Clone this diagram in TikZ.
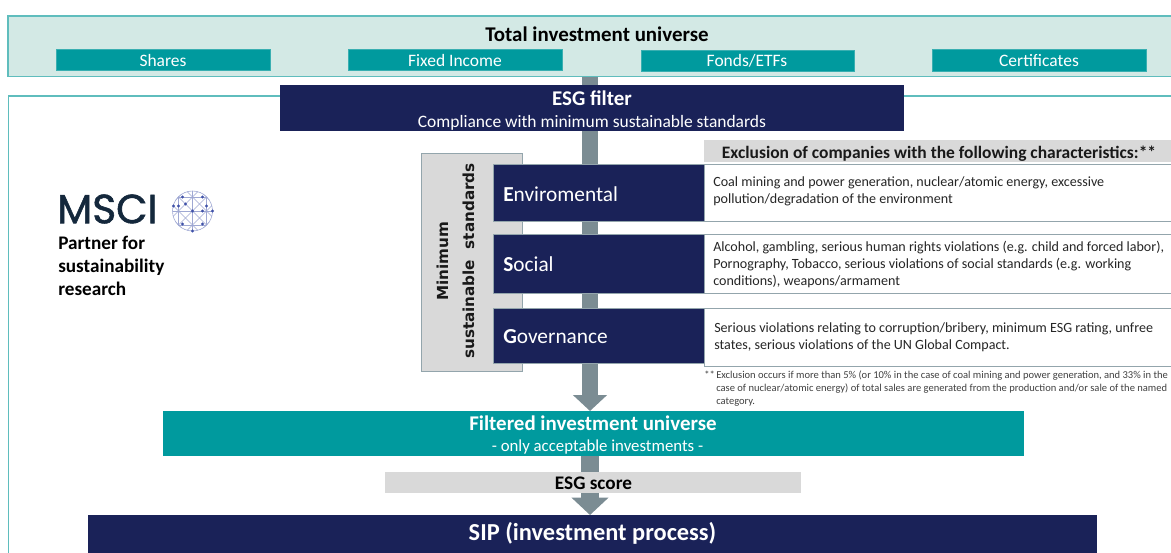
\documentclass[tikz,border=0pt]{standalone}
\usepackage{fontspec}
\setmainfont{Carlito}
\newfontfamily\logofont[FakeBold=1.4]{Poppins}
\newfontfamily\vertfont{DejaVu Sans}
\usetikzlibrary{arrows.meta,backgrounds}
\definecolor{navy}{HTML}{1A2258}
\definecolor{teal2}{HTML}{009A9E}
\definecolor{pale}{HTML}{D3E9E5}
\definecolor{edgeteal}{HTML}{5FBDBD}
\definecolor{lgray}{HTML}{D9D9D9}
\definecolor{steel}{HTML}{7B8C93}
\definecolor{edgegray}{HTML}{93A5AC}
\definecolor{globe}{HTML}{3F51A8}
\definecolor{logotext}{HTML}{14283C}
\tikzset{
  x=0.75pt,y=-0.75pt,
  chip/.style={fill=teal2,draw=edgeteal!60!teal2,line width=.4pt},
  chiptext/.style={text=white,font=\fontsize{13.1}{15}\selectfont},
  navybox/.style={fill=navy},
  desc/.style={anchor=west,inner sep=0,align=left,text=black!85,font=\fontsize{10.55}{12.75}\selectfont},
  rowlabel/.style={anchor=west,inner sep=0,text=white,font=\fontsize{16}{18}\selectfont},
  flowa/.style={draw=steel,line width=12pt,-{Triangle[length=12pt,width=25pt]}},
  flowb/.style={draw=steel,line width=13.5pt,-{Triangle[length=13pt,width=27pt]}},
  rowbox/.style={fill=white,draw=edgegray,line width=.7pt},
  glink/.style={draw=globe!50,line width=.45pt},
  gdot/.style={fill=globe,circle,inner sep=0,minimum size=2.6pt},
  foot/.style={anchor=north west,inner sep=0,align=left,text=black!75,font=\fontsize{7.9}{9.5}\selectfont},
}
\newcommand{\rectnode}[6][]{\node[rectangle,inner sep=0,outer sep=0,minimum width=#4*0.75pt-#2*0.75pt,minimum height=#5*0.75pt-#3*0.75pt,anchor=north west,#1] (#6) at (#2,#3) {};}
\begin{document}
\begin{tikzpicture}
\useasboundingbox (0,0) rectangle (1171,553);
% frames
\node[rectangle,inner sep=0,outer sep=0,anchor=north west,minimum width=873pt,minimum height=45.5pt,fill=pale,draw=edgeteal,line width=.8pt] (universe) at (8,16) {};
\draw[edgeteal,line width=.9pt] (1180,96) -- (8.5,96) -- (8.5,560);
\coordinate (axis) at (590,0);
\rectnode[navybox]{280}{85}{904}{131}{filter}
\rectnode[fill=teal2]{163}{411}{1024}{456}{filtered}
\rectnode[fill=lgray]{385}{472}{801}{493}{score}
\rectnode[navybox]{88}{515}{1097}{560}{sip}
\begin{scope}[on background layer]
\draw[flowa] (universe.south -| axis) -- (filtered.north -| axis);
\draw[flowb] (filtered.south -| axis) -- (sip.north -| axis);
\end{scope}
% universe
\node[font=\fontsize{15.7}{18}\selectfont\bfseries,text=black] (titleU) at (597,34) {Total investment universe};
\rectnode[chip]{56}{49}{270}{70}{c1}
\rectnode[chip]{348}{49}{562}{70}{c2}
\rectnode[chip]{641}{50}{854}{71}{c3}
\rectnode[chip]{932}{49}{1146}{71}{c4}
\node[chiptext] (l1) at (163,60.5) {Shares};
\node[chiptext] (l2) at (455,60.5) {Fixed Income};
\node[chiptext] (l3) at (747,60.5) {Fonds/ETFs};
\node[chiptext] (l4) at (1039,60.5) {Certificates};
% filter text
\node[text=white,font=\fontsize{15.7}{18}\selectfont\bfseries] (t1) at (592,98.5) {ESG filter};
\node[text=white,font=\fontsize{13.1}{15}\selectfont] (t2) at (592,122.5) {Compliance with minimum sustainable standards};
% min standards
\rectnode[fill=lgray,draw=edgegray,line width=.7pt]{421}{153}{522}{371}{minstd}
\node[rotate=90,align=center,font=\fontsize{11.4}{19.5}\selectfont\vertfont\bfseries,text=black!90] (mintxt) at (455.5,261) {Minimum\\sustainable\ \ standards};
% rows
\rectnode[navybox,draw=edgegray,line width=.5pt]{493}{164}{704}{221}{E}
\rectnode[navybox,draw=edgegray,line width=.5pt]{493}{234}{704}{293}{S}
\rectnode[navybox,draw=edgegray,line width=.5pt]{493}{308}{704}{363}{G}
\rectnode[rowbox]{704}{164}{1180}{221}{Ed}
\rectnode[rowbox]{704}{234}{1180}{293}{Sd}
\rectnode[rowbox]{704}{308}{1180}{366}{Gd}
\node[rowlabel] (Et) at (503,194) {\textbf{E}nviromental};
\node[rowlabel] (St) at (503,264) {\textbf{S}ocial};
\node[rowlabel] (Gt) at (503,337) {\textbf{G}overnance};
\rectnode[fill=lgray]{704}{140}{1171}{162}{head}
\node[font=\fontsize{13.1}{15}\selectfont\bfseries,text=black!90] (headt) at (939,153.5) {Exclusion of companies with the following characteristics:**};
\node[desc] (d1) at (713,191.5) {Coal mining and power generation, nuclear/atomic energy, excessive\\pollution/degradation of the environment};
\node[desc] (d2) at (713,264.5) {Alcohol, gambling, serious human rights violations (e.g. child and forced labor),\\Pornography, Tobacco, serious violations of social standards (e.g. working\\conditions), weapons/armament};
\node[desc] (d3) at (714,337.5) {Serious violations relating to corruption/bribery, minimum ESG rating, unfree\\states, serious violations of the UN Global Compact.};
\node[foot] (f1) at (704,371) {**};
\node[foot] (f2) at (716,371) {Exclusion occurs if more than 5\% (or 10\% in the case of coal mining and power generation, and 33\% in the\\case of nuclear/atomic energy) of total sales are generated from the production and/or sale of the named\\category.};
% lower labels
\node[text=white,font=\fontsize{15.7}{18}\selectfont\bfseries] (ft1) at (593,423) {Filtered investment universe};
\node[text=white,font=\fontsize{12.6}{15}\selectfont] (ft2) at (597.5,447) {- only acceptable investments -};
\node[text=black,font=\fontsize{14.4}{16}\selectfont\bfseries] (st) at (593.5,483) {ESG score};
\node[text=white,font=\fontsize{18.3}{20}\selectfont\bfseries] (sipt) at (592.5,533.5) {SIP (investment process)};
% logo
\node[anchor=west,inner sep=0,text=logotext,font=\fontsize{30.5}{32}\selectfont\logofont] (msci) at (57,209) {MSCI};
\node[anchor=north west,inner sep=0,align=left,text=black,font=\fontsize{14.4}{17.25}\selectfont\bfseries] (partner) at (58,236) {Partner for\\sustainability\\research};
\begin{scope}[shift={(192.5,211)}]
\draw[glink] (0,0) ellipse (20 and 20);
\begin{scope}
\clip (0,0) ellipse (20 and 20);
\foreach \k in {-14,0,14}{
  \draw[glink] (-20,\k) -- (20,\k) (\k,-20) -- (\k,20);
}
\foreach \k in {-28,-14,0,14,28}{
  \draw[glink] (-20,\k-20) -- (20,\k+20) (-20,\k+20) -- (20,\k-20);
}
\end{scope}
\foreach \p/\n in {0/0,-10/-14,10/-14,-14/-5,-7/-7,14/-5,20/0,10/0,-10/13,10/13,0/20,-19/-5}
  \node[gdot] at (\p,\n) {};
\end{scope}
\end{tikzpicture}
\end{document}
